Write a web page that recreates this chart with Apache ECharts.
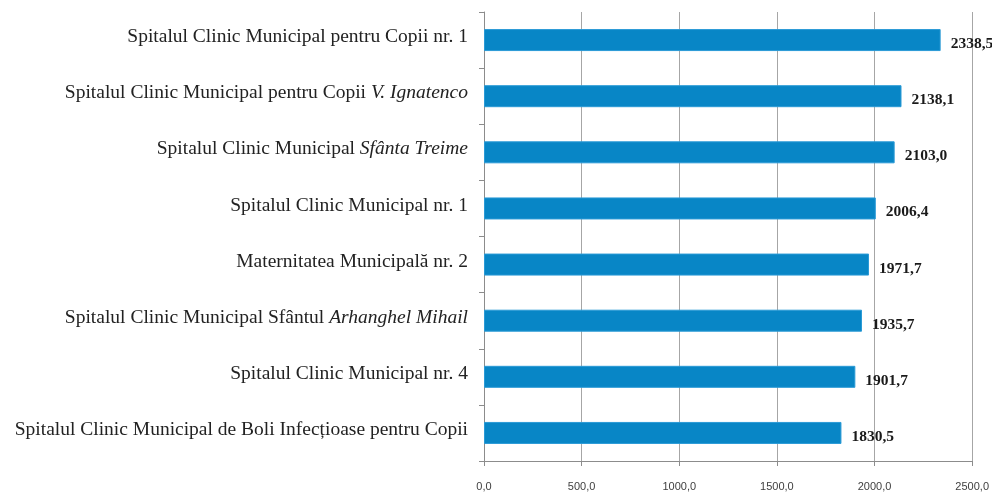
<!DOCTYPE html>
<html>
<head>
<meta charset="utf-8">
<script src="https://cdn.jsdelivr.net/npm/echarts@6/dist/echarts.min.js"></script>
<style>html,body{margin:0;padding:0;background:#fff;}#c{width:992px;height:492px;}</style>
</head>
<body>
<div id="c"></div>
<script>
// Category names: regular part + italic part (top to bottom)
var namesPlain = [
  'Spitalul Clinic Municipal pentru Copii nr. 1',
  'Spitalul Clinic Municipal pentru Copii ',
  'Spitalul Clinic Municipal ',
  'Spitalul Clinic Municipal nr. 1',
  'Maternitatea Municipală nr. 2',
  'Spitalul Clinic Municipal Sfântul ',
  'Spitalul Clinic Municipal nr. 4',
  'Spitalul Clinic Municipal de Boli Infecțioase pentru Copii'
];
var namesItalic = ['', 'V. Ignatenco', 'Sfânta Treime', '', '', 'Arhanghel Mihail', '', ''];
var values = [2338.5, 2138.1, 2103.0, 2006.4, 1971.7, 1935.7, 1901.7, 1830.5];
var xTicks = [0, 500, 1000, 1500, 2000, 2500];

var categories = namesPlain.map(function (p, i) { return p + namesItalic[i]; });
function fmt(v) { return Number(v).toFixed(1).replace('.', ','); }

var chart = echarts.init(document.getElementById('c'), null, { renderer: 'canvas' });
chart.setOption({
  animation: false,
  backgroundColor: '#ffffff',
  grid: { left: 484, right: 19, top: 12, bottom: 31, containLabel: false },
  xAxis: {
    type: 'value',
    min: xTicks[0],
    max: xTicks[xTicks.length - 1],
    interval: 500,
    axisLine: { show: true, lineStyle: { color: '#8c8c8c', width: 1 } },
    axisTick: { show: true, length: 5, lineStyle: { color: '#8c8c8c' } },
    splitLine: { show: true, lineStyle: { color: '#a6a6a6', width: 1 } },
    axisLabel: {
      margin: 20,
      fontFamily: 'Liberation Sans, Arial, sans-serif',
      fontSize: 11,
      color: '#404040',
      formatter: function (v) { return fmt(v); }
    }
  },
  yAxis: {
    type: 'category',
    inverse: true,
    data: categories,
    axisLine: { show: true, lineStyle: { color: '#8c8c8c', width: 1 } },
    axisTick: { show: true, length: 5, inside: false, lineStyle: { color: '#8c8c8c' } },
    splitLine: { show: false },
    axisLabel: {
      margin: 16,
      padding: [0, 0, 6, 0],
      formatter: function (v, idx) {
        var s = '{n|' + namesPlain[idx] + '}';
        if (namesItalic[idx]) s += '{i|' + namesItalic[idx] + '}';
        return s;
      },
      rich: {
        n: { fontFamily: 'Liberation Serif, Times New Roman, serif', fontSize: 19.5, color: '#222222' },
        i: { fontFamily: 'Liberation Serif, Times New Roman, serif', fontSize: 19.5, fontStyle: 'italic', color: '#222222' }
      }
    }
  },
  series: [{
    type: 'bar',
    data: values,
    barWidth: 22,
    itemStyle: { color: '#0886c6', borderColor: '#2a9ad6', borderWidth: 1 },
    label: {
      show: true,
      position: 'right',
      distance: 10,
      offset: [0, 4],
      fontFamily: 'Liberation Serif, Times New Roman, serif',
      fontWeight: 'bold',
      fontSize: 15.5,
      color: '#1a1a1a',
      formatter: function (p) { return fmt(p.value); }
    }
  }]
});
</script>
</body>
</html>
